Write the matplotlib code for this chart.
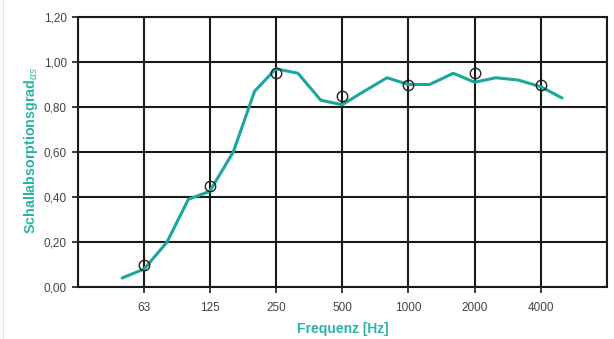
import matplotlib
matplotlib.use("Agg")
import matplotlib.pyplot as plt
import numpy as np

plt.rcParams['font.family'] = ['Liberation Sans', 'DejaVu Sans']
plt.rcParams['mathtext.fontset'] = 'custom'
plt.rcParams['mathtext.rm'] = 'Liberation Sans'
plt.rcParams['mathtext.it'] = 'Liberation Sans:italic'
plt.rcParams['mathtext.bf'] = 'Liberation Sans:bold'

# third-octave curve
curve_freq = [50, 63, 80, 100, 125, 160, 200, 250, 315, 400, 500, 630, 800,
              1000, 1250, 1600, 2000, 2500, 3150, 4000, 5000]
curve_alpha = [0.04, 0.08, 0.20, 0.39, 0.425, 0.60, 0.87, 0.97, 0.95, 0.83, 0.81,
               0.87, 0.93, 0.90, 0.90, 0.95, 0.91, 0.93, 0.92, 0.89, 0.84]

# octave-band practical values (circles)
oct_freq = [63, 125, 250, 500, 1000, 2000, 4000]
oct_alpha = [0.10, 0.45, 0.95, 0.85, 0.90, 0.95, 0.90]

tick_labels = ['63', '125', '250', '500', '1000', '2000', '4000']
y_ticks = [0.0, 0.2, 0.4, 0.6, 0.8, 1.0, 1.2]
y_labels = ['0,00', '0,20', '0,40', '0,60', '0,80', '1,00', '1,20']

teal = '#1aa89c'
label_teal = '#2bb3a8'

fig = plt.figure(figsize=(6.14, 3.39), dpi=100)
ax = fig.add_axes([78/614, 1-287/339, (607-78)/614, (287-17)/339])

ax.set_xscale('log', base=2)
ax.set_xlim(31.5, 8000)
ax.set_ylim(0, 1.2)

# grid lines (incl. boundaries)
for f in [31.5] + oct_freq + [8000]:
    ax.axvline(f, color='#1a1a1a', lw=1.5, zorder=1)
for y in y_ticks:
    ax.axhline(y, color='#1a1a1a', lw=1.5, zorder=1)

ax.plot(curve_freq, curve_alpha, color=teal, lw=2.2, zorder=3,
        solid_joinstyle='round', solid_capstyle='round')
ax.plot(oct_freq, oct_alpha, linestyle='none', marker='o', ms=7.5,
        mfc='none', mec='#222222', mew=1.0, zorder=4)

ax.set_xticks(oct_freq)
ax.set_xticklabels(tick_labels)
ax.xaxis.set_minor_locator(matplotlib.ticker.NullLocator())
ax.set_yticks(y_ticks)
ax.set_yticklabels(y_labels)
ax.tick_params(axis='both', colors='#1a1a1a', labelcolor='#444444',
               labelsize=8.5, length=4, width=1.2, direction='out')
ax.tick_params(axis='x', pad=7)
ax.tick_params(axis='y', pad=4)

for s in ax.spines.values():
    s.set_color('#1a1a1a')
    s.set_linewidth(1.5)

fig.text(343/614, 1-329/339, 'Frequenz [Hz]', color=label_teal, fontsize=10,
         fontweight='bold', ha='center', va='center')
fig.text(31/614, 1-150/339, r'Schallabsorptionsgrad$_{\alpha s}$', color=label_teal,
         fontsize=10.3, fontweight='bold', rotation=90, ha='center', va='center')

# light image border on left
fig.add_artist(plt.Line2D([3/614, 3/614], [0, 1], color='#e6e6e6', lw=1,
                          transform=fig.transFigure))

fig.savefig('out.png', dpi=100, facecolor='white')
